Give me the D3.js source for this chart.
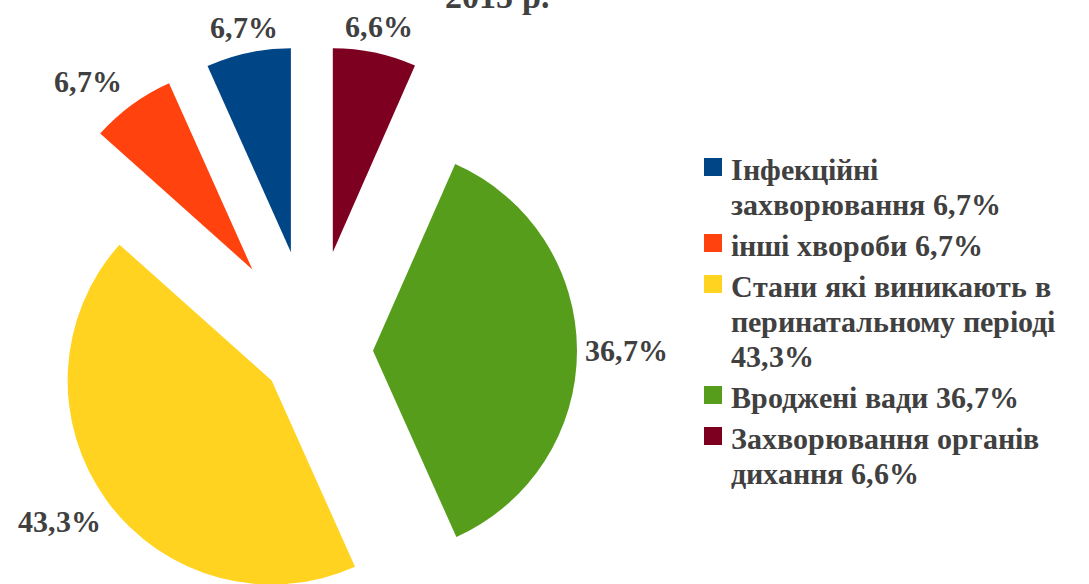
<!DOCTYPE html>
<html>
<head>
<meta charset="utf-8">
<script src="https://cdnjs.cloudflare.com/ajax/libs/d3/7.8.5/d3.min.js"></script>
<style>
  @font-face {
    font-family: 'ChartSerif';
    src: local('Liberation Serif Bold'), local('LiberationSerif-Bold'), local('Tinos Bold'), local('Tinos-Bold'), local('Times New Roman Bold');
    font-weight: bold;
  }
  body { margin: 0; }
  svg text { font-family: 'ChartSerif', 'Liberation Serif', Tinos, serif; font-weight: bold; }
</style>
</head>
<body>
<script>
// \n marks where the legend breaks a name
const categories = [
  'Інфекційні\nзахворювання',
  'інші хвороби',
  'Стани які виникають в\nперинатальному періоді',
  'Вроджені вади',
  'Захворювання органів\nдихання'
];
const values = [6.7, 6.7, 43.3, 36.7, 6.6];
const colors = ['#004586', '#ff420e', '#ffd320', '#579d1c', '#7e0021'];
const titleText = '2015 р.';

// how far each slice is pulled out of the pie
const explode = [101, 101, 50, 61, 101];

const FONT = "'ChartSerif', 'Liberation Serif', Tinos, serif";
const INK = '#404040';

function fmt(v) {
  return `${v.toFixed(1).replace('.', ',')}%`;
}

function main() {
  const width = 1089;
  const height = 584;
  const cx = 312;
  const cy = 351;
  const radius = 204;
  const fontSize = 30;

  const svg = d3.select('body')
    .append('svg')
    .attr('width', width)
    .attr('height', height)
    .attr('font-family', FONT)
    .attr('font-weight', 'bold');

  svg.append('text')
    .attr('x', 497)
    .attr('y', 8)
    .attr('font-family', FONT)
    .attr('font-size', 34)
    .attr('fill', INK)
    .attr('text-anchor', 'middle')
    .text(titleText);

  const pie = d3.pie()
    .sort(null)
    .startAngle(0)
    .endAngle(-2 * Math.PI)
    .value(d => d);

  const arc = d3.arc()
    .innerRadius(0)
    .outerRadius(radius);

  const slices = pie(values).map((d, i) => {
    const mid = (d.startAngle + d.endAngle) / 2;
    const ux = Math.sin(mid);
    const uy = -Math.cos(mid);
    return { d, i, ux, uy, ox: cx + ux * explode[i], oy: cy + uy * explode[i] };
  });

  const g = svg.selectAll('g.slice')
    .data(slices)
    .enter()
    .append('g')
    .classed('slice', true)
    .attr('transform', s => `translate(${s.ox},${s.oy})`);

  g.append('path')
    .attr('d', s => arc(s.d))
    .attr('fill', s => colors[s.i]);

  // data labels, just outside each slice
  g.append('text')
    .attr('font-family', FONT)
    .attr('font-size', fontSize)
    .attr('fill', INK)
    .attr('text-anchor', 'middle')
    .attr('dy', '0.35em')
    .text(s => fmt(values[s.i]))
    .each(function (s) {
      const w = 72;
      const rr = radius + 14;
      const sx = Math.abs(s.ux) > 0.3 ? Math.sign(s.ux) : s.ux * 0.2;
      const sy = Math.abs(s.uy) > 0.3 ? Math.sign(s.uy) : s.uy;
      const x = s.ux * rr + sx * (w / 2);
      const y = s.uy * rr + sy * 12;
      d3.select(this).attr('x', x).attr('y', y);
    });

  // legend
  const legendX = 704;
  const textX = 731;
  const maxWidth = 352;
  const lineH = 35;
  const itemGap = 6;
  let y = 180;

  categories.forEach((c, i) => {
    const t = svg.append('text')
      .attr('font-family', FONT)
      .attr('font-size', fontSize)
      .attr('fill', INK)
      .attr('x', textX)
      .attr('y', y);
    const parts = c.split('\n');
    parts[parts.length - 1] += ` ${fmt(values[i])}`;
    let lines = 0;
    parts.forEach((p) => {
      let line = [];
      let tspan = t.append('tspan').attr('x', textX).attr('y', y + lines * lineH);
      lines += 1;
      p.split(' ').forEach((w) => {
        line.push(w);
        tspan.text(line.join(' '));
        if (tspan.node().getComputedTextLength() > maxWidth && line.length > 1) {
          line.pop();
          tspan.text(line.join(' '));
          line = [w];
          tspan = t.append('tspan')
            .attr('x', textX)
            .attr('y', y + lines * lineH)
            .text(w);
          lines += 1;
        }
      });
    });
    svg.append('rect')
      .attr('x', legendX)
      .attr('y', y - 22)
      .attr('width', 18)
      .attr('height', 18)
      .attr('fill', colors[i]);
    y += lines * lineH + itemGap;
  });
}

main();
</script>
</body>
</html>
